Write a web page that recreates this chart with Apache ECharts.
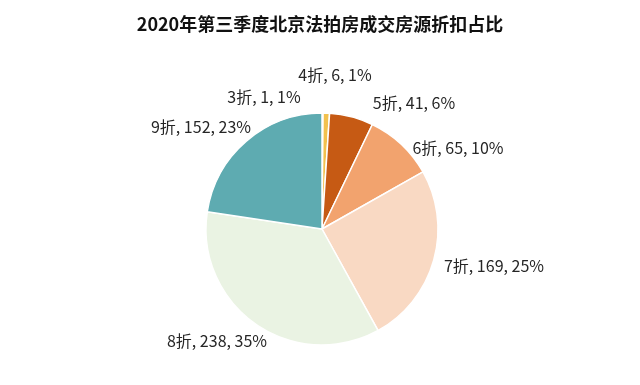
<!DOCTYPE html>
<html><head><meta charset="utf-8">
<script src="https://cdn.jsdelivr.net/npm/echarts@6/dist/echarts.min.js"></script>
<style>html,body{margin:0;padding:0;background:#fff}#c{width:640px;height:385px}</style>
</head><body><div id="c"></div>
<script>
const categories = ['3折','4折','5折','6折','7折','8折','9折'];
const values = [1, 6, 41, 65, 169, 238, 152];
const percentLabels = ['1%','1%','6%','10%','25%','35%','23%'];
const colors = ['#FBE6A8','#F2C14E','#C65A14','#F2A36E','#F9D9C3','#EAF3E3','#5EABB1'];
const titleText = '2020年第三季度北京法拍房成交房源折扣占比';
// label centre positions (layout only)
const labelCenters = [[264,97],[335,75],[414,103],[458,148],[494,266],[217,341],[201,127]];

const chart = echarts.init(document.getElementById('c'));
chart.setOption({
  animation:false,
  title:{text:titleText,left:'center',top:10,textStyle:{fontFamily:'Noto Sans CJK SC',fontSize:18,fontWeight:'bold',color:'#111'}},
  series:[{
    type:'pie',
    center:[322,229],
    radius:[0,116],
    startAngle:90,
    clockwise:true,
    avoidLabelOverlap:false,
    itemStyle:{borderColor:'#fff',borderWidth:1.5},
    label:{show:true,position:'outside',fontFamily:'Noto Sans CJK SC',fontSize:16,color:'#262626',
      formatter:p=>p.name+', '+p.value+', '+percentLabels[p.dataIndex]},
    labelLine:{show:false},
    labelLayout:p=>({x:labelCenters[p.dataIndex][0],y:labelCenters[p.dataIndex][1],align:'center',verticalAlign:'middle',hideOverlap:false}),
    data:categories.map((c,i)=>({name:c,value:values[i],itemStyle:{color:colors[i]}}))
  }]
});
</script></body></html>
